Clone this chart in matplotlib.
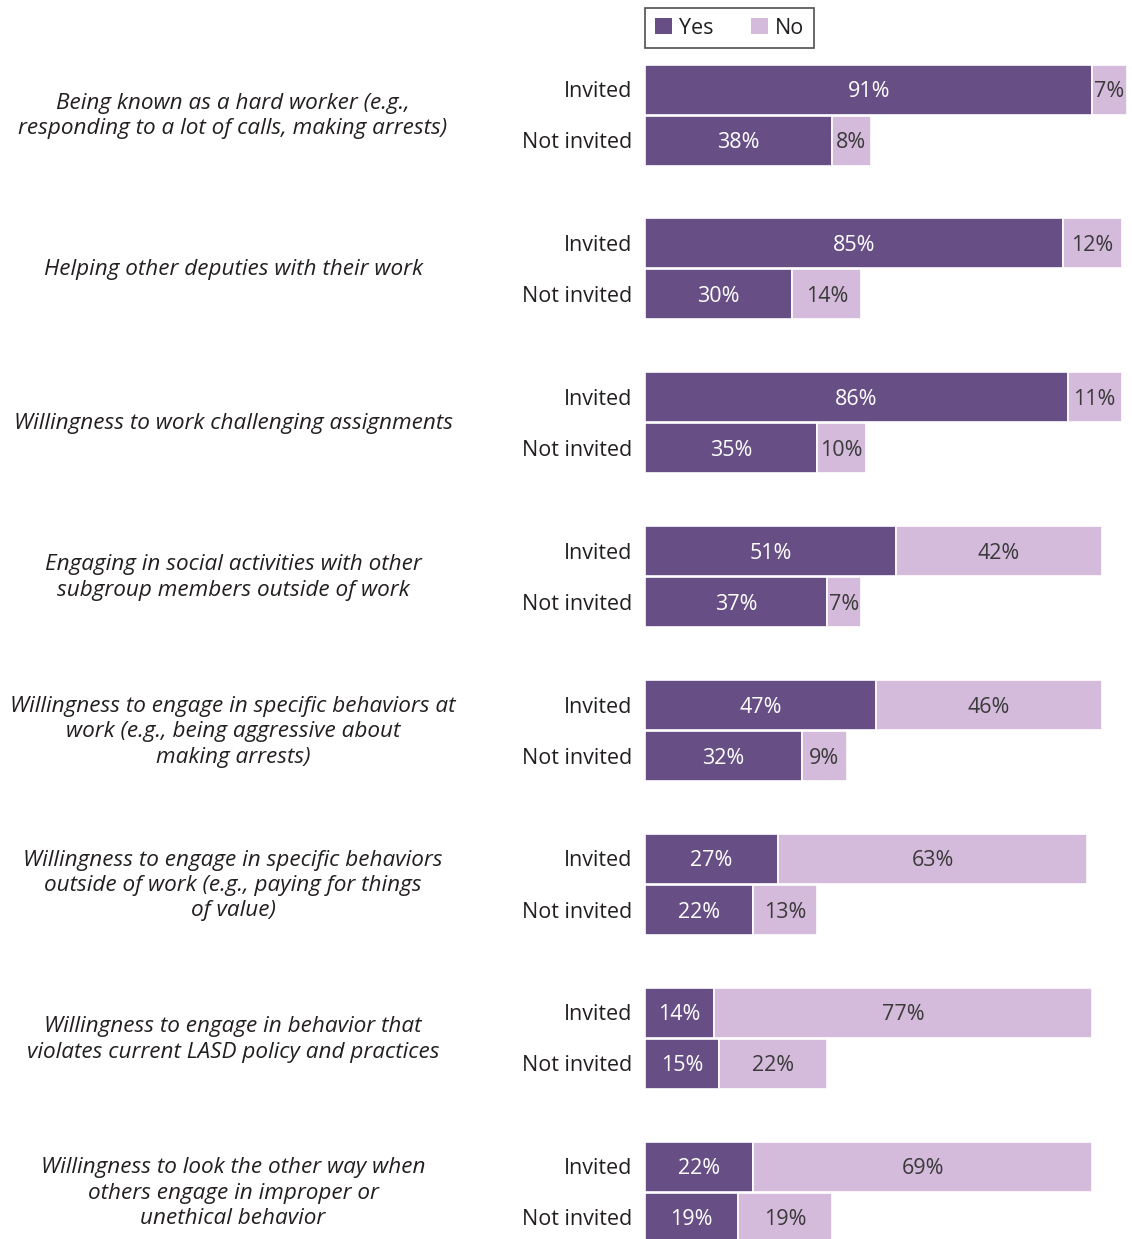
import matplotlib
matplotlib.use("Agg")
import matplotlib.pyplot as plt
from matplotlib.patches import Patch

plt.rcParams['font.family'] = ['Open Sans', 'DejaVu Sans']

categories = [
    "Being known as a hard worker (e.g.,\nresponding to a lot of calls, making arrests)",
    "Helping other deputies with their work",
    "Willingness to work challenging assignments",
    "Engaging in social activities with other\nsubgroup members outside of work",
    "Willingness to engage in specific behaviors at\nwork (e.g., being aggressive about\nmaking arrests)",
    "Willingness to engage in specific behaviors\noutside of work (e.g., paying for things\nof value)",
    "Willingness to engage in behavior that\nviolates current LASD policy and practices",
    "Willingness to look the other way when\nothers engage in improper or\nunethical behavior",
]
groups = ["Invited", "Not invited"]
invited_yes = [91, 85, 86, 51, 47, 27, 14, 22]
invited_no = [7, 12, 11, 42, 46, 63, 77, 69]
notinv_yes = [38, 30, 35, 37, 32, 22, 15, 19]
notinv_no = [8, 14, 10, 7, 9, 13, 22, 19]

YES_COLOR = "#674f85"
NO_COLOR = "#d4badb"
TEXT_COLOR = "#231f20"
FS = 15.5

W, H = 1132, 1239
fig = plt.figure(figsize=(W / 100, H / 100), dpi=100)

# bar axis in percent along x, pixel rows along y
left_px = 645
ax = fig.add_axes([left_px / W, 0, (W - left_px) / W, 1])
ax.set_xlim(0, (W - left_px) / 4.915)
ax.set_ylim(H, 0)
ax.axis("off")

first_center = 89.5
group_step = 153.9
bar_h = 50
pair_gap = 51
text_nudge = 2  # optical centring of labels within rows

for i, cat in enumerate(categories):
    c_inv = first_center + group_step * i
    c_not = c_inv + pair_gap
    for yc, yv, nv, lab in [(c_inv, invited_yes[i], invited_no[i], groups[0]),
                            (c_not, notinv_yes[i], notinv_no[i], groups[1])]:
        ax.barh(yc, yv, height=bar_h, left=0, color=YES_COLOR,
                edgecolor="white", linewidth=1.2)
        ax.barh(yc, nv, height=bar_h, left=yv, color=NO_COLOR,
                edgecolor="white", linewidth=1.2)
        ty = yc + text_nudge
        ax.text(yv / 2, ty, f"{yv}%", ha="center", va="center",
                color="white", fontsize=FS)
        ax.text(yv + nv / 2, ty, f"{nv}%", ha="center", va="center",
                color="#3a3a3a", fontsize=FS)
        fig.text(632 / W, 1 - ty / H, lab, ha="right", va="center",
                 color=TEXT_COLOR, fontsize=FS)
    fig.text(233 / W, 1 - ((c_inv + c_not) / 2 + 1) / H, cat, ha="center",
             va="center", style="italic", color=TEXT_COLOR, fontsize=16.2,
             linespacing=1.28)

handles = [Patch(facecolor=YES_COLOR, edgecolor="none", label="Yes"),
           Patch(facecolor=NO_COLOR, edgecolor="none", label="No")]
leg = fig.legend(handles=handles, loc="upper left", ncol=2,
                 bbox_to_anchor=(645 / W, 1 - 8 / H), frameon=True,
                 fancybox=False, fontsize=FS, handlelength=0.8,
                 handleheight=0.8, handletextpad=0.35, columnspacing=1.7,
                 borderpad=0.45, borderaxespad=0)
leg.get_frame().set_edgecolor("#222222")
leg.get_frame().set_linewidth(1.2)
for t in leg.get_texts():
    t.set_color(TEXT_COLOR)

fig.savefig("out.png", dpi=100)
